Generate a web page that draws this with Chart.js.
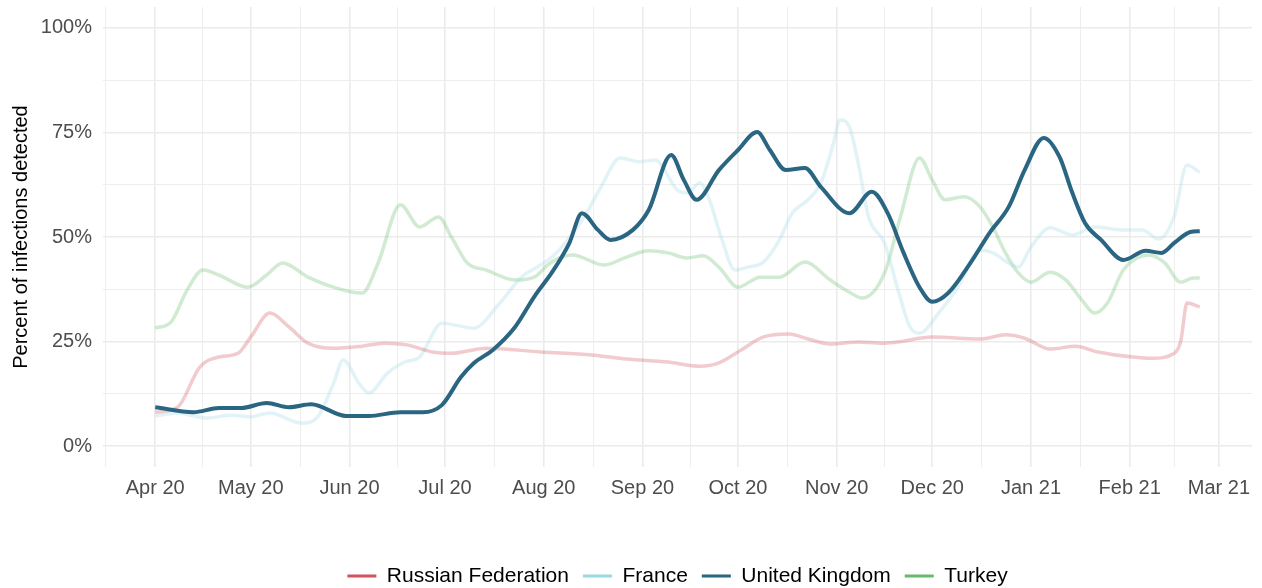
<!DOCTYPE html>
<html>
<head>
<meta charset="utf-8">
<script src="https://cdn.jsdelivr.net/npm/chart.js@4.4.1/dist/chart.umd.min.js"></script>
<style>
  html, body { margin: 0; padding: 0; background: #fff; overflow: hidden; }
</style>
</head>
<body>
<canvas id="myChart" width="1262" height="588"></canvas>
<script>
// x values are days since 1 Apr 2020
const monthTickDays = [0, 30, 61, 91, 122, 153, 183, 214, 244, 275, 306, 334];
const monthTickLabels = ['Apr 20', 'May 20', 'Jun 20', 'Jul 20', 'Aug 20', 'Sep 20', 'Oct 20', 'Nov 20', 'Dec 20', 'Jan 21', 'Feb 21', 'Mar 21'];
const yTickValues = [0, 25, 50, 75, 100];

const seriesNames = ['Russian Federation', 'France', 'United Kingdom', 'Turkey'];
const seriesColors = ['#d1535e', '#9ad8e3', '#2a6582', '#67ba6b'];

const ruDays = [0,7,14,20,26,30,36,42,48,56,65,72,79,87,93,104,121,137,148,161,171,177,184,191,199,205,212,221,228,233,244,259,267,273,281,289,296,307,313,320,322,324,328];
const ruValues = [8.1,9.3,18.9,21.3,22.2,26.1,31.8,28.5,24.6,23.4,23.9,24.6,24.2,22.5,22.2,23.4,22.5,21.8,20.8,20.1,19.1,19.9,23,26.1,26.8,25.6,24.4,24.9,24.6,24.9,26.1,25.6,26.6,25.8,23.2,23.9,22.5,21.3,21,22.2,25,34.2,33.3];

const frDays = [0,7,16,24,30,36,46,51,56,59,64,67,73,78,83,90,100,108,115,121,126,134,136,140,146,152,157,164,167,171,174,178,182,186,191,196,200,205,209,213,215,218,221,224,229,233,237,240,246,252,259,263,271,275,281,288,295,304,310,315,320,324,328];
const frValues = [7.2,7.9,6.7,7.4,7.0,7.9,5.5,7,15,20.6,15,12.7,17.5,20,21.3,29.4,28.2,34,40.4,43.3,46.2,54,56.5,62,68.9,68,68.4,61.2,60.5,62.9,58.9,49.3,42.1,42.8,44,49.3,55.7,58.9,62.9,72.5,78,76.3,66.7,54.8,48.6,38,28.5,27,31.8,38,46.9,46.2,42.8,47.6,52.2,50.5,52.4,51.7,51.7,49.5,55,67.2,65.5];

const ukDays = [0,12,20,27,35,42,49,60,67,77,84,90,96,100,106,113,119,125,130,134,139,143,150,155,162,166,170,177,183,189,193,198,204,209,218,225,230,235,240,244,249,256,262,268,273,279,284,288,292,297,304,311,316,320,325,328];
const ukValues = [9.3,8.1,9.1,9.1,10.3,9.3,10.0,7.2,7.2,8.1,8.1,9.8,16.5,19.8,23,28.5,35.7,42,48.5,55.7,51.7,49.3,51.7,56.5,69.6,63.6,58.9,66,70.8,75.1,70.8,66,66.5,62,55.7,60.8,55.7,46.2,38,34.5,36.6,43.8,51,57.2,66,73.7,69.1,60.5,53.3,49.3,44.5,46.7,46.2,48.6,51.2,51.4];

const tuDays = [0,5,10,15,20,29,35,40,48,56,65,70,77,83,89,93,98,104,113,119,124,131,141,148,155,161,167,172,177,183,190,196,204,212,218,222,229,234,240,244,248,254,259,263,267,271,275,281,286,291,295,299,304,312,317,322,326,328];
const tuValues = [28.2,29.7,37.3,42.1,40.9,38,40.9,43.8,40.4,38,36.6,43.8,57.7,52.4,54.8,50,43.8,42.1,39.7,40.4,43.8,45.7,43.3,45.2,46.7,46.2,45,45.5,42.8,38,40.4,40.4,44,39.7,36.8,35.4,41.4,54.8,68.9,63.6,58.9,59.6,57.2,52.4,46.2,41.4,39.2,41.6,39.7,34.9,31.8,34.2,42.1,45.7,43.8,39.2,40.2,40.2];

const allDays = [ruDays, frDays, ukDays, tuDays];
const allValues = [ruValues, frValues, ukValues, tuValues];

function fade(hex, a) {
  const n = parseInt(hex.slice(1), 16);
  return 'rgba(' + (n >> 16) + ',' + ((n >> 8) & 255) + ',' + (n & 255) + ',' + a + ')';
}

// minor grid at midpoints between month breaks (ggplot style)
const xMinor = [];
const prev = [-31].concat(monthTickDays);
for (let i = 1; i < prev.length; i++) xMinor.push((prev[i - 1] + prev[i]) / 2);
const xTicks = monthTickDays.concat(xMinor).sort((a, b) => a - b);
const yTicks = [];
for (let v = 0; v <= 100; v += 12.5) yTicks.push(v);

Chart.defaults.font.family = "'Liberation Sans', Arial, sans-serif";

const datasets = seriesNames.map((name, i) => ({
  label: name,
  data: allDays[i].map((d, j) => ({ x: d, y: allValues[i][j] })),
  borderColor: i === 2 ? seriesColors[i] : fade(seriesColors[i], 0.3),
  borderWidth: i === 2 ? 4 : 3.5,
  pointRadius: 0,
  fill: false,
  cubicInterpolationMode: 'monotone',
  order: i === 2 ? 0 : 1
}));

new Chart(document.getElementById('myChart'), {
  type: 'line',
  data: { datasets: datasets },
  options: {
    responsive: false,
    animation: false,
    layout: { padding: { top: 7, right: 10, left: 0, bottom: 0 } },
    plugins: {
      tooltip: { enabled: false },
      legend: {
        position: 'bottom',
        fullSize: false,
        maxHeight: 36.5,
        labels: {
          boxWidth: 29,
          boxHeight: 3,
          padding: 14,
          color: '#000',
          font: { size: 21 },
          generateLabels: chart => chart.data.datasets.map((ds, i) => ({
            text: ds.label,
            fillStyle: seriesColors[i],
            strokeStyle: seriesColors[i],
            lineWidth: 0,
            hidden: false,
            datasetIndex: i
          }))
        }
      }
    },
    scales: {
      x: {
        type: 'linear',
        min: -16.4,
        max: 344.4,
        afterBuildTicks: s => { s.ticks = xTicks.map(v => ({ value: v })); },
        afterFit: s => { s.height = 84.5; s.paddingLeft = 0; s.paddingRight = 0; },
        ticks: {
          autoSkip: false,
          maxRotation: 0,
          padding: 9,
          color: '#4d4d4d',
          font: { size: 20 },
          callback: v => {
            const k = monthTickDays.indexOf(v);
            return k >= 0 ? monthTickLabels[k] : '';
          }
        },
        grid: {
          drawTicks: false,
          color: c => monthTickDays.includes(c.tick.value) ? '#ebebeb' : '#eeeeee',
          lineWidth: c => monthTickDays.includes(c.tick.value) ? 1.6 : 1
        },
        border: { display: false }
      },
      y: {
        min: -5,
        max: 105,
        afterBuildTicks: s => { s.ticks = yTicks.map(v => ({ value: v })); },
        afterFit: s => { s.width = 103; s.paddingTop = 0; s.paddingBottom = 0; },
        ticks: {
          autoSkip: false,
          padding: 11,
          color: '#4d4d4d',
          font: { size: 20 },
          callback: v => yTickValues.includes(v) ? v + '%' : ''
        },
        title: {
          display: true,
          text: 'Percent of infections detected',
          color: '#000',
          font: { size: 20 },
          padding: { top: 9, bottom: 0 }
        },
        grid: {
          drawTicks: false,
          color: c => yTickValues.includes(c.tick.value) ? '#ebebeb' : '#eeeeee',
          lineWidth: c => yTickValues.includes(c.tick.value) ? 1.6 : 1
        },
        border: { display: false }
      }
    }
  }
});
</script>
</body>
</html>
